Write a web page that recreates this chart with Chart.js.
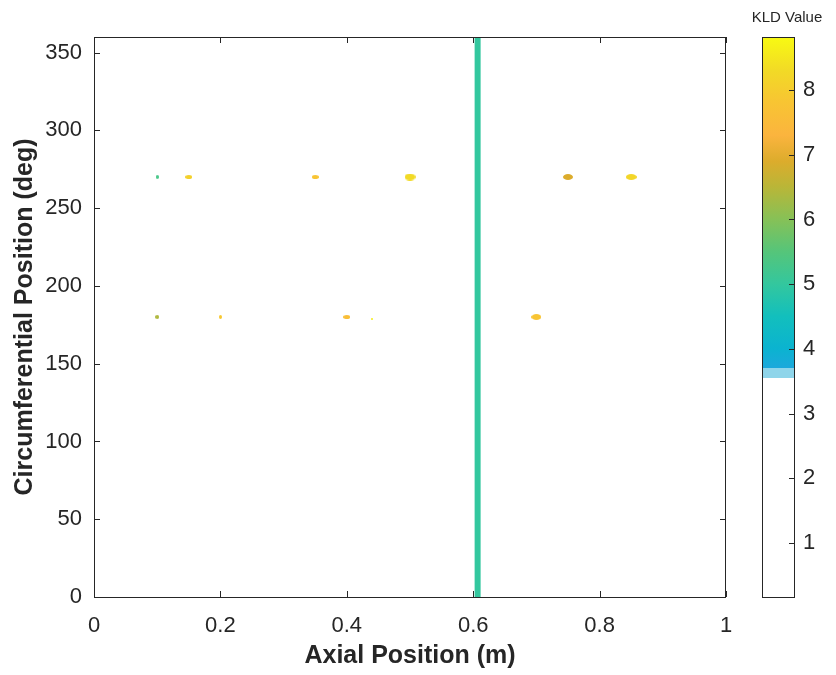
<!DOCTYPE html>
<html>
<head>
<meta charset="utf-8">
<script src="https://cdn.jsdelivr.net/npm/chart.js@4.4.1/dist/chart.umd.min.js"></script>
<style>
  body { margin: 0; background: #fff; }
  #wrap { position: relative; width: 836px; height: 675px; }
  #main { position: absolute; left: 0; top: 0; }
  #cbar { position: absolute; left: 740px; top: 0; }
</style>
</head>
<body>
<div id="wrap">
  <canvas id="main" width="740" height="675"></canvas>
  <canvas id="cbar" width="96" height="675"></canvas>
</div>
<script>
// === KLD map: axial x circumferential ===

// vertical band of high KLD across the whole circumference
const bandAxial = [0.607, 0.607];
const bandCircum = [0, 360];
const bandKLD = 5.0;

// isolated spots (two rows, ~270 deg and ~180 deg)
const blobAxial  = [0.10, 0.15, 0.35, 0.50, 0.75, 0.85, 0.10, 0.20, 0.40, 0.44, 0.70];
const blobCircum = [270, 270, 270, 270, 270, 270, 180, 180, 180, 179, 180];
const blobKLD    = [5.3, 8.1, 7.8, 8.3, 6.9, 8.2, 6.4, 7.9, 7.6, 8.6, 7.8];

// colour bar range and colormap stops
const cbMin = 0.165;
const cbMax = 8.82;
const cmapValues = [0.165, 3.55, 3.55, 3.7, 3.7, 4.0, 4.5, 5.0, 5.5, 6.0, 6.5, 6.9, 7.3, 7.8, 8.3, 8.82];
const cmapColors = ['#ffffff', '#ffffff', '#8fd5ea', '#8fd5ea', '#1ca8dc', '#0bb3d0', '#12bfbd', '#33c79e',
                    '#55c57a', '#86c157', '#b9b638', '#dcac2c', '#fbb43e', '#f8c433', '#f2da26', '#f8fa12'];

const xTickStep = 0.2;
const yTickStep = 50;
const cbTickStep = 1;

// --- style ---
const blobW = [3, 7, 7, 11, 10, 11, 4, 3, 7, 2, 10];
const blobH = [4, 4, 4, 7, 6, 6, 4, 4, 4, 2, 6];
const FONT = '"Liberation Sans", Arial, Helvetica, sans-serif';
const TXT = '#262626';

function hexRgb(h) {
  return [parseInt(h.slice(1, 3), 16), parseInt(h.slice(3, 5), 16), parseInt(h.slice(5, 7), 16)];
}
function colorAt(v) {
  for (let i = 1; i < cmapValues.length; i++) {
    if (v <= cmapValues[i]) {
      const a = cmapValues[i - 1], b = cmapValues[i];
      const t = b > a ? (v - a) / (b - a) : 1;
      const c0 = hexRgb(cmapColors[i - 1]), c1 = hexRgb(cmapColors[i]);
      const c = c0.map((x, k) => Math.round(x + (c1[k] - x) * t));
      return `rgb(${c[0]},${c[1]},${c[2]})`;
    }
  }
  return cmapColors[cmapColors.length - 1];
}
function ellipseSprite(w, h, color) {
  const c = document.createElement('canvas');
  c.width = w; c.height = h;
  const g = c.getContext('2d');
  g.fillStyle = color;
  g.beginPath();
  g.ellipse(w / 2, h / 2, w / 2, h / 2, 0, 0, Math.PI * 2);
  g.fill();
  return c;
}
const sprites = blobKLD.map((v, i) => ellipseSprite(blobW[i], blobH[i], colorAt(v)));

// box around plot + inward ticks (MATLAB look)
const boxPlugin = {
  id: 'box',
  afterDraw(chart, args, opts) {
    const { ctx, chartArea: a } = chart;
    ctx.save();
    ctx.strokeStyle = TXT;
    ctx.lineWidth = 1;
    ctx.strokeRect(a.left + 0.5, a.top + 0.5, a.right - a.left - 1, a.bottom - a.top);
    const len = 6;
    ctx.beginPath();
    if (opts.xTicks) {
      const sx = chart.scales.x;
      sx.ticks.forEach(t => {
        const px = Math.round(sx.getPixelForValue(t.value)) + 0.5;
        ctx.moveTo(px, a.bottom); ctx.lineTo(px, a.bottom - len);
        ctx.moveTo(px, a.top); ctx.lineTo(px, a.top + len);
      });
    }
    const sy = chart.scales.y;
    sy.ticks.forEach(t => {
      const py = Math.round(sy.getPixelForValue(t.value)) + 0.5;
      if (opts.leftTicks) { ctx.moveTo(a.left, py); ctx.lineTo(a.left + len, py); }
      ctx.moveTo(a.right, py); ctx.lineTo(a.right - len, py);
    });
    ctx.stroke();
    if (opts.title) {
      ctx.fillStyle = TXT;
      ctx.font = `15px ${FONT}`;
      ctx.textAlign = 'center';
      ctx.textBaseline = 'middle';
      ctx.fillText(opts.title, opts.titleX, opts.titleY);
    }
    ctx.restore();
  }
};

new Chart(document.getElementById('main'), {
  type: 'scatter',
  data: {
    datasets: [
      {
        type: 'line',
        data: bandAxial.map((x, i) => ({ x, y: bandCircum[i] })),
        borderColor: colorAt(bandKLD),
        borderWidth: 6,
        pointRadius: 0
      },
      {
        type: 'line',
        data: bandAxial.map((x, i) => ({ x, y: bandCircum[i] })),
        borderColor: 'rgba(150,196,95,0.55)',
        borderWidth: 1.5,
        borderDash: [3, 11],
        pointRadius: 0
      },
      {
        data: blobAxial.map((x, i) => ({ x, y: blobCircum[i] })),
        pointStyle: ctx => sprites[ctx.dataIndex],
        pointRadius: 5,
        backgroundColor: 'transparent',
        borderColor: 'transparent'
      }
    ]
  },
  options: {
    responsive: false,
    animation: false,
    devicePixelRatio: 1,
    layout: { padding: { top: 37, right: 14, left: 0, bottom: 0 } },
    plugins: {
      legend: { display: false },
      tooltip: { enabled: false },
      box: { xTicks: true, leftTicks: true }
    },
    scales: {
      x: {
        type: 'linear', min: 0, max: 1,
        ticks: { stepSize: xTickStep, padding: 16, color: TXT, font: { family: FONT, size: 22 },
                 callback: v => String(+v.toFixed(2)) },
        grid: { display: false, drawTicks: false },
        border: { display: false },
        title: { display: true, text: 'Axial Position (m)', color: TXT,
                 font: { family: FONT, size: 25, weight: 'bold' }, padding: { top: 0, bottom: 4 } },
        afterFit: s => { s.height = 78; s.paddingLeft = 0; s.paddingRight = 0; }
      },
      y: {
        type: 'linear', min: 0, max: 360,
        ticks: { stepSize: yTickStep, includeBounds: false, padding: 12, color: TXT, font: { family: FONT, size: 22 } },
        grid: { display: false, drawTicks: false },
        border: { display: false },
        title: { display: true, text: 'Circumferential Position (deg)', color: TXT,
                 font: { family: FONT, size: 25, weight: 'bold' }, padding: { top: 10, bottom: 0 } },
        afterFit: s => { s.width = 94; s.paddingTop = 0; s.paddingBottom = 0; }
      }
    }
  },
  plugins: [boxPlugin]
});

new Chart(document.getElementById('cbar'), {
  type: 'bar',
  data: {
    labels: [''],
    datasets: [{
      data: [[cbMin, cbMax]],
      barPercentage: 1,
      categoryPercentage: 1,
      borderWidth: 0,
      backgroundColor: ctx => {
        const chart = ctx.chart;
        if (!chart.chartArea) return '#ffffff';
        const sy = chart.scales.y;
        const y0 = sy.getPixelForValue(cbMin), y1 = sy.getPixelForValue(cbMax);
        const g = chart.ctx.createLinearGradient(0, y0, 0, y1);
        cmapValues.forEach((v, i) => g.addColorStop((v - cbMin) / (cbMax - cbMin), cmapColors[i]));
        return g;
      }
    }]
  },
  options: {
    responsive: false,
    animation: false,
    devicePixelRatio: 1,
    layout: { padding: { top: 37, right: 0, left: 22, bottom: 78 } },
    plugins: {
      legend: { display: false },
      tooltip: { enabled: false },
      box: { title: 'KLD Value', titleX: 47, titleY: 18 }
    },
    scales: {
      x: { display: false },
      y: {
        position: 'right', min: cbMin, max: cbMax,
        ticks: { stepSize: cbTickStep, includeBounds: false, padding: 8, color: TXT, font: { family: FONT, size: 22 } },
        grid: { display: false, drawTicks: false },
        border: { display: false },
        afterFit: s => { s.width = 41; }
      }
    }
  },
  plugins: [boxPlugin]
});
</script>
</body>
</html>
